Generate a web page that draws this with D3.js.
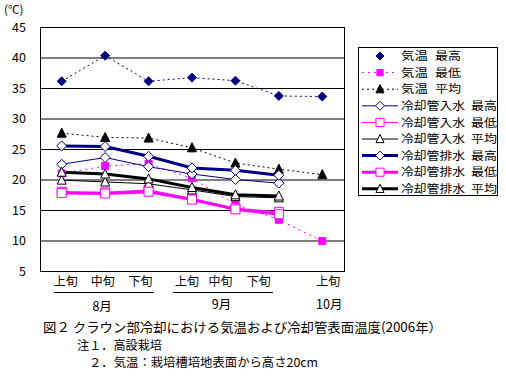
<!DOCTYPE html>
<html><head><meta charset="utf-8">
<script src="https://cdn.jsdelivr.net/npm/d3@7/dist/d3.min.js"></script>
<style>
html,body{margin:0;padding:0;background:#fff;}
svg{display:block;}
text{font-family:"Noto Sans CJK JP","Noto Sans",sans-serif;fill:#000;}
</style></head>
<body><svg id="c" width="506" height="378"></svg>
<script>
// ---- data ----
const categories = ["8月上旬","8月中旬","8月下旬","9月上旬","9月中旬","9月下旬","10月上旬"];
const tickLabels = ["上旬","中旬","下旬","上旬","中旬","下旬","上旬"];
const monthLabels = ["8月","9月","10月"];
const yTicks = [5,10,15,20,25,30,35,40,45];
const seriesNames = ["気温 最高","気温 最低","気温 平均","冷却管入水 最高","冷却管入水 最低","冷却管入水 平均","冷却管排水 最高","冷却管排水 最低","冷却管排水 平均"];
const airMax = [36.1, 40.3, 36.1, 36.7, 36.2, 33.7, 33.6];
const airMin = [21.0, 22.2, 22.6, 20.2, 15.9, 13.4, 9.9];
const airAvg = [27.6, 26.9, 26.8, 25.2, 22.7, 21.7, 20.8];
const inMax  = [22.5, 23.6, 22.1, 20.9, 20.0, 19.4];
const inMin  = [18.0, 17.9, 18.3, 16.9, 15.3, 14.7];
const inAvg  = [19.9, 19.6, 19.3, 18.3, 17.2, 17.0];
const outMax = [25.5, 25.4, 23.8, 21.9, 21.5, 20.7];
const outMin = [17.8, 17.7, 18.0, 16.7, 15.1, 14.3];
const outAvg = [21.2, 20.9, 20.1, 18.7, 17.5, 17.3];
const caption = "図２ クラウン部冷却における気温および冷却管表面温度(2006年）";
const note1 = "注１．高設栽培";
const note2 = "２．気温：栽培槽培地表面から高さ20cm";

// ---- styles ----
const NAVY="#000080", MAG="#ff00ff", BLK="#000000";
const styles = [
  {data:airMax, color:NAVY, width:1, dash:"2,3", marker:"diamond", fill:NAVY, r:4.5, legendLine:false},
  {data:airMin, color:MAG,  width:1, dash:"2,4", marker:"square",  fill:MAG,  r:3.5, legendLine:true},
  {data:airAvg, color:BLK,  width:1, dash:"2,3", marker:"triangle",fill:BLK,  r:4.5, legendLine:true},
  {data:inMax,  color:NAVY, width:1, dash:null,  marker:"diamond", fill:"#fff", r:5, legendLine:true},
  {data:inMin,  color:MAG,  width:1, dash:null,  marker:"square",  fill:"#fff", r:4.5, legendLine:true},
  {data:inAvg,  color:BLK,  width:1, dash:null,  marker:"triangle",fill:"#fff", r:4.5, legendLine:true},
  {data:outMax, color:NAVY, width:3, dash:null,  marker:"diamond", fill:"#fff", r:5, legendLine:true},
  {data:outMin, color:MAG,  width:3, dash:null,  marker:"square",  fill:"#fff", r:4.5, legendLine:true},
  {data:outAvg, color:BLK,  width:3, dash:null,  marker:"triangle",fill:"#fff", r:4.5, legendLine:true}
];

const svg = d3.select("#c");
const L=40, R=344, T=27, B=271;
const x = d3.scaleBand().domain(categories).range([L,R]);
const xc = c => x(c) + x.bandwidth()/2;
const y = d3.scaleLinear().domain([5,45]).range([B,T]);

// gridlines
svg.append("g").selectAll("line").data(yTicks).join("line")
  .attr("x1",L).attr("x2",R).attr("y1",d=>y(d)+0.5).attr("y2",d=>y(d)+0.5)
  .attr("stroke","#000").attr("stroke-width",1);
svg.append("rect").attr("x",L+0.5).attr("y",T+0.5).attr("width",R-L).attr("height",B-T)
  .attr("fill","none").attr("stroke","#000").attr("stroke-width",1);

// y axis labels
const yAxis = d3.axisLeft(y).tickValues(yTicks).tickSize(0).tickPadding(0);
const ga = svg.append("g").attr("transform",`translate(${L-14},0)`).call(yAxis);
ga.select(".domain").remove();
ga.selectAll("text").attr("font-family","Liberation Sans, Arial, sans-serif").attr("font-size",12.5).attr("dx",0);
svg.append("text").attr("x",4).attr("y",13.5).attr("font-size",11.5).text("(℃)");

// marker paths
function markerPath(type,r){
  if(type==="diamond") return `M0,${-r}L${r},0L0,${r}L${-r},0Z`;
  if(type==="square") return `M${-r},${-r}H${r}V${r}H${-r}Z`;
  return `M0,${-r-0.5}L${r},${r*0.9}L${-r},${r*0.9}Z`;
}

// series
const plot = svg.append("g");
styles.forEach(s=>{
  const pts = s.data.map((v,i)=>[xc(categories[i]), y(v)]);
  plot.append("path").attr("d",d3.line()(pts)).attr("fill","none")
    .attr("stroke",s.color).attr("stroke-width",s.width)
    .attr("stroke-dasharray",s.dash);
});
styles.forEach(s=>{
  const pts = s.data.map((v,i)=>[xc(categories[i]), y(v)]);
  plot.append("g").selectAll("path").data(pts).join("path")
    .attr("transform",d=>`translate(${d[0]},${d[1]})`)
    .attr("d",markerPath(s.marker,s.r))
    .attr("fill",s.fill).attr("stroke",s.color).attr("stroke-width",1);
});

// x tick labels
const labelOffsets = [4, -2.5, -8, -5, -15, -20, 6];
svg.append("g").selectAll("text").data(tickLabels).join("text")
  .attr("x",(d,i)=>xc(categories[i])+labelOffsets[i]).attr("y",286)
  .attr("text-anchor","middle").attr("font-size",12).text(d=>d);
// month group lines
const groupStarts = [xc(categories[0])-8, xc(categories[3])-19];
groupStarts.forEach(a=>{
  svg.append("line").attr("x1",a).attr("x2",a+100).attr("y1",292.5).attr("y2",292.5)
    .attr("stroke","#000").attr("stroke-width",1);
});
const monthX = [xc(categories[1])-3, xc(categories[4])-14, xc(categories[6])+7];
svg.append("g").selectAll("text").data(monthLabels).join("text")
  .attr("x",(d,i)=>monthX[i]).attr("y",(d,i)=>i===0?311:309)
  .attr("text-anchor","middle").attr("font-size",12.5).text(d=>d);

// captions
svg.append("text").attr("x",43).attr("y",332).attr("font-size",13)
  .attr("textLength",399).attr("lengthAdjust","spacingAndGlyphs").text(caption);
svg.append("text").attr("x",77).attr("y",350).attr("font-size",12)
  .attr("textLength",85).attr("lengthAdjust","spacingAndGlyphs").text(note1);
svg.append("text").attr("x",89).attr("y",367).attr("font-size",12)
  .attr("textLength",229).attr("lengthAdjust","spacingAndGlyphs").text(note2);

// legend
const lg = svg.append("g");
lg.append("rect").attr("x",358.5).attr("y",47.5).attr("width",139).attr("height",148)
  .attr("fill","#fff").attr("stroke","#000").attr("stroke-width",1);
styles.forEach((s,i)=>{
  const yy = 56 + i*16.6;
  if(s.legendLine){
    lg.append("line").attr("x1",362).attr("x2",398).attr("y1",yy).attr("y2",yy)
      .attr("stroke",s.color).attr("stroke-width",s.width).attr("stroke-dasharray",s.dash);
  }
  lg.append("path").attr("transform",`translate(380,${yy})`)
    .attr("d",markerPath(s.marker, s.r*0.9)).attr("fill",s.fill).attr("stroke",s.color);
  const parts = seriesNames[i].split(" ");
  const short = parts[0].length===2;
  lg.append("text").attr("x",401).attr("y",yy+4.2).attr("font-size",11.4)
    .attr("textLength", short?27:64).attr("lengthAdjust","spacingAndGlyphs").text(parts[0]);
  lg.append("text").attr("x", short?435:471).attr("y",yy+4.2).attr("font-size",11.4)
    .attr("textLength", 26).attr("lengthAdjust","spacingAndGlyphs").text(parts[1]);
});
</script></body></html>
